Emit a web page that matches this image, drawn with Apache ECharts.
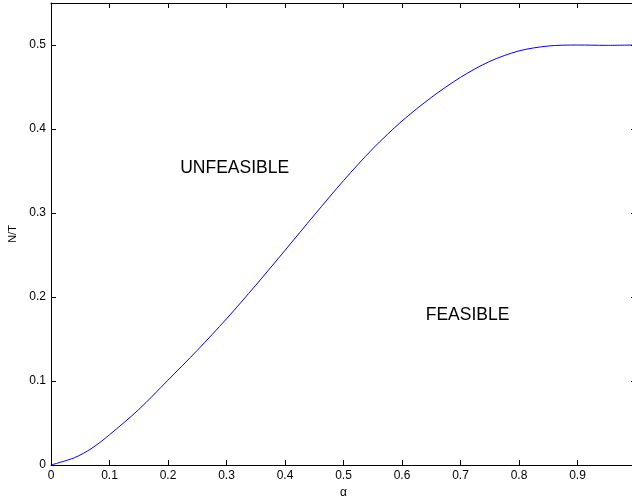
<!DOCTYPE html>
<html>
<head>
<meta charset="utf-8">
<script src="https://cdn.jsdelivr.net/npm/echarts@6/dist/echarts.min.js"></script>
<style>html,body{margin:0;padding:0;background:#fff}#c{width:632px;height:497px}</style>
</head>
<body>
<div id="c"></div>
<script>
const alphaValues = [0, 0.04, 0.07, 0.1, 0.15, 0.2, 0.25, 0.3, 0.35, 0.4, 0.45, 0.5, 0.55, 0.6, 0.65, 0.7, 0.75, 0.8, 0.85, 0.9, 0.95, 1.0];
const ntValues    = [0, 0.0087, 0.02, 0.036, 0.066, 0.101, 0.1365, 0.174, 0.214, 0.2555, 0.2975, 0.3385, 0.3765, 0.4095, 0.4375, 0.4615, 0.4805, 0.493, 0.4988, 0.5, 0.4996, 0.5];
const xTickLabels = ['0', '0.1', '0.2', '0.3', '0.4', '0.5', '0.6', '0.7', '0.8', '0.9'];
const yTickLabels = ['0', '0.1', '0.2', '0.3', '0.4', '0.5'];
const regionNames = ['UNFEASIBLE', 'FEASIBLE'];
const regionAlpha = [0.314, 0.712];
const regionNT = [0.353, 0.178];

const font = 'Liberation Sans, Arial, Helvetica, sans-serif';
const chart = echarts.init(document.getElementById('c'), null, {renderer: 'canvas'});
const axisCommon = {
  axisLine: {show: true, onZero: false, lineStyle: {color: '#000', width: 1}},
  axisTick: {show: true, inside: true, length: 5, lineStyle: {color: '#000'}},
  splitLine: {show: false}
};
const fmtX = v => { const i = Math.round(v * 10); return xTickLabels[i] !== undefined ? xTickLabels[i] : ''; };
const fmtY = v => { const i = Math.round(v * 10); return yTickLabels[i] !== undefined ? yTickLabels[i] : ''; };
chart.setOption({
  animation: false,
  backgroundColor: '#fff',
  grid: {left: 51, top: 3, width: 585, height: 462, containLabel: false, outerBoundsMode: 'none'},
  xAxis: [
    Object.assign({}, axisCommon, {
      type: 'value', min: 0, max: 1, interval: 0.1, position: 'bottom',
      name: 'α', nameLocation: 'middle', nameGap: 13,
      nameTextStyle: {color: '#000', fontSize: 12, fontFamily: font},
      axisLabel: {color: '#000', fontSize: 12, fontFamily: font, margin: 5, formatter: fmtX}
    }),
    Object.assign({}, axisCommon, {
      type: 'value', min: 0, max: 1, interval: 0.1, position: 'top',
      axisLabel: {show: false}
    })
  ],
  yAxis: [
    Object.assign({}, axisCommon, {
      type: 'value', min: 0, max: 0.55, interval: 0.1, position: 'left',
      name: 'N/T', nameLocation: 'middle', nameGap: 28, nameRotate: 90,
      nameTextStyle: {color: '#000', fontSize: 11, fontFamily: font},
      axisLabel: {color: '#000', fontSize: 12, fontFamily: font, margin: 5, formatter: fmtY}
    }),
    Object.assign({}, axisCommon, {
      type: 'value', min: 0, max: 0.55, interval: 0.1, position: 'right',
      axisLabel: {show: false}
    })
  ],
  series: [{
    type: 'line',
    data: alphaValues.map((a, i) => [a, ntValues[i]]),
    smooth: 0.3,
    showSymbol: false,
    lineStyle: {color: '#0000ff', width: 1},
    clip: true,
    markPoint: {
      symbol: 'circle', symbolSize: 0,
      label: {show: true, position: 'inside', color: '#000', fontSize: 17.5, fontFamily: font, formatter: p => p.name},
      data: regionNames.map((n, i) => ({name: n, coord: [regionAlpha[i], regionNT[i]]}))
    }
  }]
});
</script>
</body>
</html>
